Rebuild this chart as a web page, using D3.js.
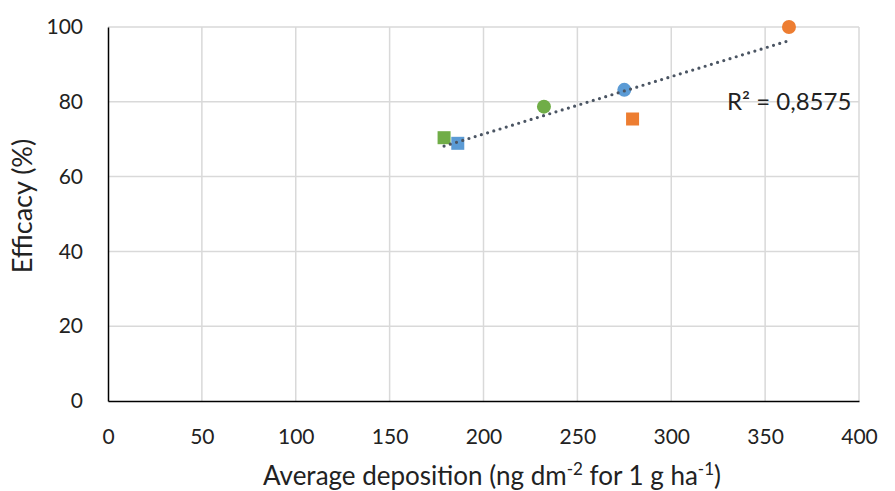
<!DOCTYPE html>
<html>
<head>
<meta charset="utf-8">
<script src="https://cdn.jsdelivr.net/npm/d3@7"></script>
<style>
  html, body { margin: 0; padding: 0; background: #fff; }
  svg { display: block; font-family: Lato, "Open Sans", sans-serif; }
</style>
</head>
<body>
<svg id="chart" width="895" height="491"></svg>
<script>
// Average deposition (ng dm-2 for 1 g ha-1) and efficacy (%) per treatment
const deposition = [362.7, 275.0, 279.4, 232.2, 179.0, 186.3];
const efficacy   = [100.0, 83.2, 75.4, 78.7, 70.4, 68.9];
const group      = ["orange", "blue", "orange", "green", "green", "blue"];
const shape      = ["circle", "circle", "square", "circle", "square", "square"];
const groupColor = { orange: "#ED7D31", blue: "#5B9BD5", green: "#70AD47" };
const xTicks = [0, 50, 100, 150, 200, 250, 300, 350, 400];
const yTicks = [0, 20, 40, 60, 80, 100];
const r2Label = "R² = 0,8575";

const svg = d3.select("#chart");
const plot = { left: 108, right: 859, top: 27, bottom: 401 };

const x = d3.scaleLinear().domain([0, 400]).range([plot.left, plot.right]);
const y = d3.scaleLinear().domain([0, 100]).range([plot.bottom, plot.top]);

// grid
svg.append("g").selectAll("line").data(xTicks.slice(1)).join("line")
  .attr("x1", d => x(d)).attr("x2", d => x(d))
  .attr("y1", plot.top).attr("y2", plot.bottom)
  .attr("stroke", "#d9d9d9").attr("stroke-width", 1.5);
svg.append("g").selectAll("line").data(yTicks.slice(1)).join("line")
  .attr("x1", plot.left).attr("x2", plot.right)
  .attr("y1", d => y(d)).attr("y2", d => y(d))
  .attr("stroke", "#d9d9d9").attr("stroke-width", 1.5);

// axes
const xAxis = svg.append("g").attr("transform", `translate(0,${plot.bottom})`)
  .call(d3.axisBottom(x).tickValues(xTicks).tickSize(0).tickPadding(28));
const yAxis = svg.append("g").attr("transform", `translate(${plot.left},0)`)
  .call(d3.axisLeft(y).tickValues(yTicks).tickSize(0).tickPadding(25));
[xAxis, yAxis].forEach(a => {
  a.select(".domain").attr("stroke", "#000").attr("stroke-width", 1.5);
  a.selectAll("text").attr("font-family", "Lato, sans-serif")
    .attr("font-size", 21).attr("fill", "#222");
});

// markers
const pts = deposition.map((d, i) => ({ x: d, y: efficacy[i], g: group[i], s: shape[i] }));
const order = [4, 5, 3, 1, 2, 0];
const mk = svg.append("g");
order.forEach(i => {
  const p = pts[i];
  if (p.s === "circle") {
    mk.append("circle").attr("cx", x(p.x)).attr("cy", y(p.y)).attr("r", 7)
      .attr("fill", groupColor[p.g]);
  } else {
    mk.append("rect").attr("x", x(p.x) - 6.5).attr("y", y(p.y) - 6.5)
      .attr("width", 13).attr("height", 13).attr("fill", groupColor[p.g]);
  }
});

// linear trend line (least squares)
const mx = d3.mean(deposition), my = d3.mean(efficacy);
const sxy = d3.sum(deposition, (d, i) => (d - mx) * (efficacy[i] - my));
const sxx = d3.sum(deposition, d => (d - mx) ** 2);
const slope = sxy / sxx, icpt = my - slope * mx;
const [x0, x1] = d3.extent(deposition);
svg.append("line")
  .attr("x1", x(x0)).attr("y1", y(icpt + slope * x0))
  .attr("x2", x(x1)).attr("y2", y(icpt + slope * x1))
  .attr("stroke", "#4b5563").attr("stroke-width", 3.2)
  .attr("stroke-linecap", "round").attr("stroke-dasharray", "0 6.5");

svg.append("text").attr("x", 727).attr("y", 110)
  .attr("font-size", 24).attr("fill", "#222").text(r2Label);

// axis titles
const xt = svg.append("text").attr("x", 492).attr("y", 485)
  .attr("text-anchor", "middle").attr("font-size", 26).attr("fill", "#222");
xt.append("tspan").text("Average deposition (ng dm");
xt.append("tspan").attr("dy", -10).attr("font-size", 17).text("-2");
xt.append("tspan").attr("dy", 10).text(" for 1 g ha");
xt.append("tspan").attr("dy", -10).attr("font-size", 17).text("-1");
xt.append("tspan").attr("dy", 10).text(")");

svg.append("text").attr("transform", "translate(32,206) rotate(-90)")
  .attr("text-anchor", "middle").attr("font-size", 27).attr("fill", "#222")
  .text("Efficacy (%)");
</script>
</body>
</html>
